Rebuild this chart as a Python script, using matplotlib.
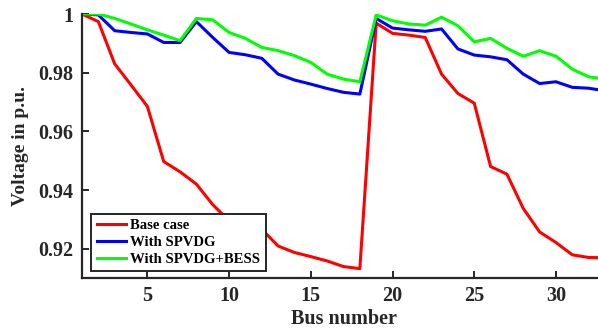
import numpy as np
import matplotlib
matplotlib.use("Agg")
import matplotlib.pyplot as plt

# bus voltage profiles
bus = np.arange(1, 34)

base_case = [1.0, 0.9974, 0.983, 0.9758, 0.9685, 0.9497, 0.9462, 0.942, 0.935,
             0.9295, 0.9275, 0.9266, 0.9209, 0.9187, 0.9173, 0.9158, 0.9139,
             0.9132, 0.9969, 0.9934, 0.9928, 0.992, 0.9795, 0.9729, 0.9696,
             0.948, 0.9454, 0.9337, 0.9257, 0.9221, 0.9179, 0.917, 0.9169]

with_spvdg = [1.0, 0.9997, 0.9943, 0.9937, 0.9932, 0.9903, 0.9903, 0.9974,
              0.992, 0.9869, 0.9861, 0.9849, 0.9795, 0.9775, 0.9761, 0.9746,
              0.9733, 0.9727, 0.9985, 0.9952, 0.9946, 0.9941, 0.9949, 0.9881,
              0.986, 0.9854, 0.9844, 0.9795, 0.9763, 0.9769, 0.975, 0.9747,
              0.9738]

with_spvdg_bess = [1.0, 1.0, 0.9985, 0.9966, 0.9946, 0.9928, 0.9909, 0.9985,
                   0.998, 0.9937, 0.9917, 0.9886, 0.9875, 0.9858, 0.9835,
                   0.9795, 0.9778, 0.9769, 0.9997, 0.9977, 0.9966, 0.9962,
                   0.9989, 0.996, 0.9905, 0.9917, 0.9883, 0.9856, 0.9875,
                   0.9856, 0.9812, 0.9786, 0.9778]

x_ticks = [5, 10, 15, 20, 25, 30]
y_ticks = [0.92, 0.94, 0.96, 0.98, 1.0]
y_tick_labels = ["0.92", "0.94", "0.96", "0.98", "1"]

plt.rcParams['font.family'] = ['Liberation Serif', 'DejaVu Serif']
plt.rcParams['font.weight'] = 'bold'

fig = plt.figure(figsize=(5.98, 3.33), dpi=100)
# the original picture is cropped on the right, so the axes run past the edge
ax = fig.add_axes([82 / 598, 1 - 278 / 333, 523 / 598, 264 / 333])

ax.plot(bus, base_case, color='#ff0000', lw=2.2, label='Base case')
ax.plot(bus, with_spvdg, color='#0000ff', lw=2.2, label='With SPVDG')
ax.plot(bus, with_spvdg_bess, color='#00ff00', lw=2.2, label='With SPVDG+BESS')

ax.set_xlim(1, 33)
ax.set_ylim(0.91, 1.0)
ax.set_xticks(x_ticks)
ax.set_yticks(y_ticks)
ax.set_yticklabels(y_tick_labels)

for side in ['top', 'right']:
    ax.spines[side].set_visible(False)
for side in ['left', 'bottom']:
    ax.spines[side].set_linewidth(1.6)
    ax.spines[side].set_color('#262626')

ax.tick_params(direction='in', length=5, width=1.4, colors='#262626',
               labelsize=14.5, labelcolor='#262626', pad=6)

ax.set_xlabel('Bus number', fontsize=14.5, fontweight='bold', color='#262626',
              labelpad=2)
ax.set_ylabel('Voltage in p.u.', fontsize=14, fontweight='bold',
              color='#262626', labelpad=7)

leg = ax.legend(loc='lower left', bbox_to_anchor=(0.018, 0.025),
                fontsize=10.6, frameon=True, fancybox=False,
                handlelength=2.0, borderpad=0.35, labelspacing=0.25,
                handletextpad=0.3, borderaxespad=0)
leg.get_frame().set_edgecolor('#262626')
leg.get_frame().set_linewidth(1.4)
leg.get_frame().set_alpha(1)

fig.savefig('out.png', dpi=100)
